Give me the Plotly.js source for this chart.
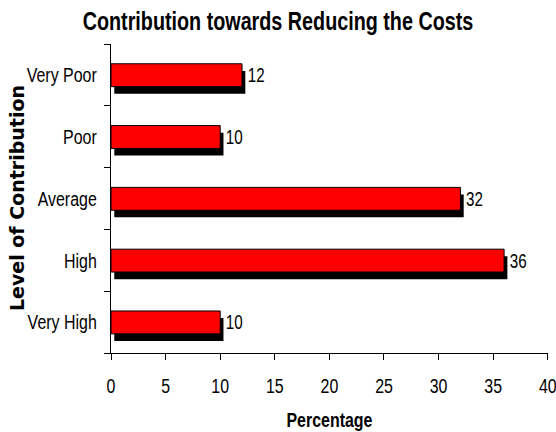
<!DOCTYPE html>
<html>
<head>
<meta charset="utf-8">
<script src="https://cdn.plot.ly/plotly-3.0.1.min.js"></script>
<style>html,body{margin:0;padding:0;background:#fff;}#chart{width:556px;height:432px;}</style>
</head>
<body>
<div id="chart"></div>
<script>
// Categories from bottom to top
var categories = ["Very High", "High", "Average", "Poor", "Very Poor"];
var percentages = [10, 36, 32, 10, 12];
var xTickValues = [0, 5, 10, 15, 20, 25, 30, 35, 40];

var SANS = "'Liberation Sans', Arial, sans-serif";
function nf(size, weight) {
  return {family: SANS, size: size, color: "#000", weight: weight || "normal"};
}

var shadow = {
  type: "bar",
  orientation: "h",
  y: categories,
  x: percentages,
  base: 0.3,
  width: 0.37,
  offset: -0.305,
  marker: {color: "#000000", line: {width: 0}},
  hoverinfo: "skip",
  showlegend: false
};

var bars = {
  type: "bar",
  orientation: "h",
  y: categories,
  x: percentages,
  width: 0.37,
  offset: -0.19,
  marker: {color: "#FF0000", line: {color: "#000000", width: 1}},
  text: percentages.map(String),
  textposition: "outside",
  constraintext: "none",
  textfont: nf(20),
  cliponaxis: false,
  showlegend: false
};

var layout = {
  width: 556,
  height: 432,
  margin: {l: 111, r: 8, t: 44, b: 79},
  paper_bgcolor: "#fff",
  plot_bgcolor: "#fff",
  barmode: "overlay",
  title: {
    text: "Contribution towards Reducing the Costs",
    font: nf(26, "bold"),
    x: 0.5, xref: "container", xanchor: "center",
    y: 0.952, yref: "container", yanchor: "middle"
  },
  xaxis: {
    range: [0, 40.02],
    tickvals: xTickValues,
    ticktext: xTickValues.map(String),
    ticklabeloverflow: "allow",
    ticks: "outside", ticklen: 6, tickcolor: "#000", tickwidth: 1,
    showline: true, linecolor: "#000", linewidth: 1,
    showgrid: false, zeroline: false,
    tickfont: nf(21),
    ticklabelstandoff: 8,
    title: {text: "Percentage", font: nf(21, "bold"), standoff: 16}
  },
  yaxis: {
    type: "category",
    categoryorder: "array",
    categoryarray: categories,
    range: [-0.5, 4.5],
    ticks: "outside", tickson: "boundaries", ticklen: 6, tickcolor: "#000", tickwidth: 1,
    showline: true, linecolor: "#000", linewidth: 1,
    showgrid: false, zeroline: false,
    tickfont: nf(21),
    ticklabelstandoff: 9
  },
  annotations: [{
    text: "<b>Level of Contribution</b>",
    textangle: -90,
    xref: "paper", yref: "paper",
    x: -0.216, y: 0.5,
    xanchor: "center", yanchor: "middle",
    showarrow: false,
    font: {family: "'DejaVu Sans', sans-serif", size: 19, color: "#000"}
  }]
};

Plotly.newPlot("chart", [shadow, bars], layout, {displayModeBar: false, staticPlot: true}).then(function (gd) {
  // Condense the narrow-font texts horizontally around their anchor points
  var k = 0.76;
  gd.querySelectorAll("svg text").forEach(function (t) {
    if (t.closest(".annotation")) return;
    var x = parseFloat(t.getAttribute("x")) || 0;
    var tr = t.getAttribute("transform") || "";
    t.setAttribute("transform", tr + " translate(" + x + ",0) scale(" + k + ",1) translate(" + (-x) + ",0)");
  });
});
</script>
</body>
</html>
